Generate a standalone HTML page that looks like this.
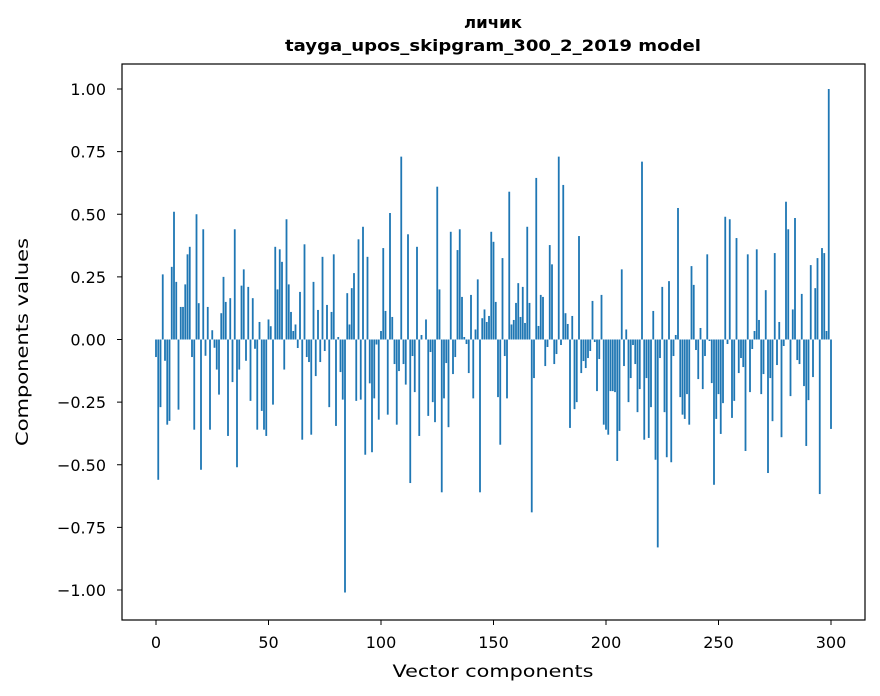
<!DOCTYPE html>
<html><head><meta charset="utf-8"><style>
body{margin:0;background:#fff}
svg{display:block;font-family:"DejaVu Sans","Liberation Sans",sans-serif}
</style></head><body>
<svg id="chart" width="880" height="696" xmlns="http://www.w3.org/2000/svg">
<rect width="880" height="696" fill="#fff"/>
<text x="493" y="28" text-anchor="middle" font-size="16" font-weight="bold" textLength="58" lengthAdjust="spacingAndGlyphs">личик</text>
<text x="493" y="51" text-anchor="middle" font-size="16" font-weight="bold" textLength="416" lengthAdjust="spacingAndGlyphs">tayga_upos_skipgram_300_2_2019 model</text>
<g id="bars"></g>
<g id="axes"></g>
<rect x="122" y="64" width="743" height="556" fill="none" stroke="#000" stroke-width="1.2"/>
<text x="493" y="677" text-anchor="middle" font-size="17" textLength="201" lengthAdjust="spacingAndGlyphs">Vector components</text>
<text transform="translate(28,342) rotate(-90)" text-anchor="middle" font-size="17" textLength="208" lengthAdjust="spacingAndGlyphs">Components values</text>
</svg>
<script>
const values = [
-0.07,-0.56,-0.27,0.26,-0.085,-0.34,-0.325,0.29,0.51,0.23,-0.28,0.13,0.13,0.22,0.34,0.37,-0.07,-0.36,0.50,0.145,-0.52,0.44,-0.065,0.13,-0.36,0.037,-0.033,-0.12,-0.22,0.105,0.25,0.15,-0.385,0.165,-0.17,0.44,-0.51,-0.12,0.215,0.28,-0.085,0.21,-0.245,0.165,-0.037,-0.36,0.07,-0.285,-0.36,-0.385,0.08,
0.053,-0.26,0.37,0.20,0.36,0.31,-0.12,0.48,0.22,0.11,0.034,0.06,-0.034,0.19,-0.40,0.38,-0.07,-0.09,-0.38,0.23,-0.146,0.118,-0.09,0.33,-0.046,0.138,-0.27,0.11,0.34,-0.345,0.01,-0.13,-0.24,-1.01,0.185,0.06,0.205,0.265,-0.245,0.40,-0.24,0.45,-0.46,0.33,-0.175,-0.45,-0.235,-0.02,-0.32,0.034,0.365,
0.114,-0.30,0.505,0.09,-0.098,-0.34,-0.126,0.73,-0.098,-0.18,0.42,-0.573,-0.066,-0.21,0.37,-0.385,0.018,0,0.08,-0.305,-0.05,-0.25,-0.33,0.61,0.20,-0.61,-0.235,-0.094,-0.35,0.43,-0.138,-0.07,0.357,0.44,0.17,0.01,-0.018,-0.134,0.178,-0.235,0.04,0.24,-0.61,0.085,0.12,0.07,0.094,0.43,0.39,0.15,
-0.23,-0.42,0.325,-0.066,-0.235,0.59,0.06,0.078,0.146,0.225,0.09,0.21,0.066,0.45,0.146,-0.69,-0.154,0.645,0.054,0.178,0.17,-0.106,-0.03,0.377,0.30,-0.098,-0.058,0.73,-0.022,0.617,0.105,0.062,-0.353,0.094,-0.278,-0.25,0.413,-0.134,-0.086,-0.114,-0.074,-0.046,0.154,-0.01,-0.206,-0.078,0.178,-0.34,-0.36,
-0.38,-0.206,-0.206,-0.21,-0.485,-0.365,0.28,-0.106,0.04,-0.25,-0.154,-0.022,-0.098,-0.29,-0.198,0.71,-0.40,-0.154,-0.393,-0.27,0.114,-0.48,-0.83,-0.074,0.21,-0.29,-0.47,0.233,-0.49,-0.066,0.018,0.525,-0.23,-0.30,-0.317,-0.218,-0.34,0.293,0.218,-0.042,-0.158,0.046,-0.198,-0.066,0.34,-0.006,-0.174,-0.58,-0.317,-0.218,-0.377,
-0.254,0.49,-0.018,0.48,-0.313,-0.245,0.405,-0.134,-0.074,-0.11,-0.445,0.34,-0.21,-0.038,0.034,0.36,0.078,-0.218,-0.138,0.197,-0.533,-0.154,-0.326,0.345,-0.102,0.07,-0.39,-0.026,0.55,0.44,-0.226,0.12,0.485,-0.082,-0.098,0.182,-0.186,-0.425,-0.242,0.297,-0.15,0.205,0.325,-0.617,0.365,0.345,0.034,1.0,-0.357
];
const xTicks = [0,50,100,150,200,250,300];
const yTicks = [-1.00,-0.75,-0.50,-0.25,0.00,0.25,0.50,0.75,1.00];

const NS = "http://www.w3.org/2000/svg";
function xScale(v){ return 156 + 2.25*v; }
function yScale(v){ return 339.5 - 250.5*v; }
const bars = document.getElementById('bars');
values.forEach((v,i)=>{
  const r = document.createElementNS(NS,'rect');
  const y0 = yScale(0), y1 = yScale(v);
  r.setAttribute('x', xScale(i-0.4));
  r.setAttribute('width', 2.25*0.8);
  r.setAttribute('y', Math.min(y0,y1));
  r.setAttribute('height', Math.abs(y1-y0));
  r.setAttribute('fill', '#1f77b4');
  
  
  bars.appendChild(r);
});
const axes = document.getElementById('axes');
xTicks.forEach(t=>{
  const x = xScale(t);
  const l = document.createElementNS(NS,'line');
  l.setAttribute('x1',x); l.setAttribute('x2',x); l.setAttribute('y1',620); l.setAttribute('y2',625);
  l.setAttribute('stroke','#000');
  
  
  axes.appendChild(l);
  const tx = document.createElementNS(NS,'text');
  tx.setAttribute('x',x); tx.setAttribute('y',648); tx.setAttribute('text-anchor','middle'); tx.setAttribute('font-size','16');
  tx.textContent = t;
  
  
  axes.appendChild(tx);
});
yTicks.forEach(t=>{
  const y = yScale(t);
  const l = document.createElementNS(NS,'line');
  l.setAttribute('x1',117); l.setAttribute('x2',122); l.setAttribute('y1',y); l.setAttribute('y2',y);
  l.setAttribute('stroke','#000');
  
  
  axes.appendChild(l);
  const tx = document.createElementNS(NS,'text');
  tx.setAttribute('x',106); tx.setAttribute('y',y+6); tx.setAttribute('text-anchor','end'); tx.setAttribute('font-size','16');
  tx.textContent = (t<0?'\u2212':'') + Math.abs(t).toFixed(2);
  
  
  axes.appendChild(tx);
});
</script>
</body></html>
